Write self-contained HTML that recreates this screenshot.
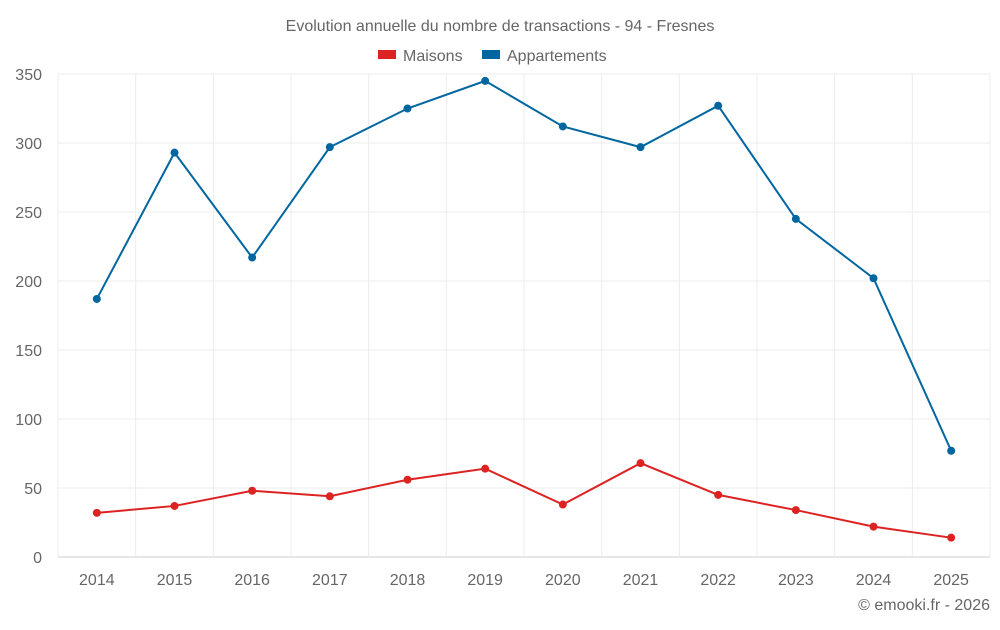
<!DOCTYPE html>
<html><head><meta charset="utf-8"><style>
body{margin:0;background:#fff;font-family:"Liberation Sans",sans-serif}
svg text{font-family:"Liberation Sans",sans-serif;fill:#666}
</style></head><body>
<svg id="c" width="1000" height="625">
<text x="500" y="31" text-anchor="middle" font-size="16">Evolution annuelle du nombre de transactions - 94 - Fresnes</text>
<g>
<g><rect x="378" y="50" width="18" height="9" fill="#dd2222"/><text x="403" y="61" font-size="16">Maisons</text></g>
<g><rect x="482" y="50" width="18" height="9" fill="#0066a0"/><text x="507" y="61" font-size="16">Appartements</text></g>
</g>
<g id="grid"></g><g id="axes"></g><g id="series"></g>
<text x="990" y="610" text-anchor="end" font-size="16">© emooki.fr - 2026</text>
</svg>
<script>
const years=["2014","2015","2016","2017","2018","2019","2020","2021","2022","2023","2024","2025"];
const maisons=[32,37,48,44,56,64,38,68,45,34,22,14];
const appartements=[187,293,217,297,325,345,312,297,327,245,202,77];
const yTicks=[0,50,100,150,200,250,300,350];
const L=58,R=990,T=74,B=557,YMAX=350;
const bw=(R-L)/years.length;
const x=i=>L+bw*(i+0.5);
const y=v=>B-(B-T)*v/YMAX;
const NS="http://www.w3.org/2000/svg";
function mk(t,a,p){const e=document.createElementNS(NS,t);for(const k in a)e.setAttribute(k,a[k]);p.appendChild(e);return e;}
const g=document.getElementById('grid'),ax=document.getElementById('axes'),s=document.getElementById('series');
yTicks.forEach(v=>{
const l=mk('line',{x1:L,x2:R,y1:y(v),y2:y(v),stroke:v===0?'#ccc':'#ececec'},g);


const t=mk('text',{x:42,y:y(v)+6,'text-anchor':'end','font-size':16},ax);t.textContent=v;


});
for(let i=0;i<=years.length;i++){
const l=mk('line',{x1:L+bw*i,x2:L+bw*i,y1:T,y2:B+(i===0?0:0),stroke:'#ececec'},g);


}
years.forEach((yr,i)=>{
const t=mk('text',{x:x(i),y:585,'text-anchor':'middle','font-size':16},ax);t.textContent=yr;


});
function series(data,color,name){
const p=mk('polyline',{points:data.map((v,i)=>x(i)+','+y(v)).join(' '),fill:'none',stroke:color,'stroke-width':2},s);


data.forEach((v,i)=>{
const c=mk('circle',{cx:x(i),cy:y(v),r:4,fill:color},s);


});
}
series(maisons,'#dd2222','maisons');
series(appartements,'#0066a0','appartements');
</script>
</body></html>
